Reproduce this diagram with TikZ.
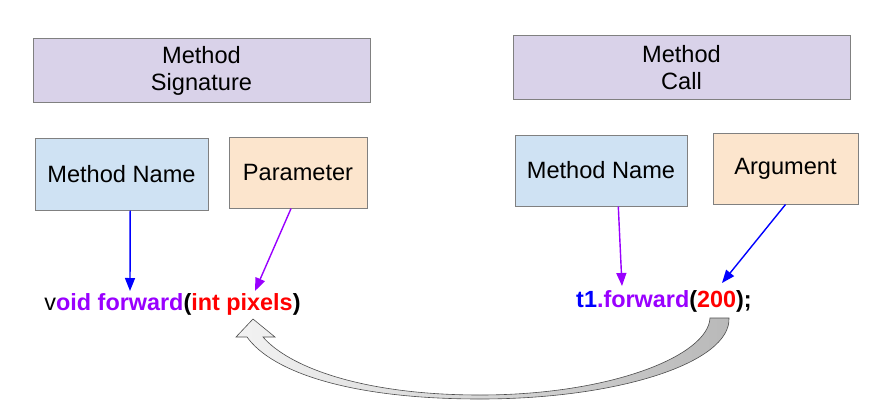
\documentclass[tikz,border=0pt]{standalone}
\usepackage{fontspec}
\setmainfont{Liberation Sans}
\usepackage{xcolor}
\usetikzlibrary{arrows.meta,calc}
\definecolor{sigfill}{HTML}{D9D2E9}
\definecolor{namefill}{HTML}{CFE2F3}
\definecolor{parfill}{HTML}{FCE5CD}
\definecolor{boxline}{HTML}{808080}
\definecolor{kwpurple}{HTML}{9900FF}
\definecolor{kwred}{HTML}{FF0000}
\definecolor{kwblue}{HTML}{0000FF}

\begin{document}
\begin{tikzpicture}[x=1pt, y=-1pt, main node/.style={rectangle, draw=boxline, line width=1pt, inner sep=0pt, font=\fontsize{23.6}{27}\selectfont, align=center}, code node/.style={inner sep=0pt, anchor=base, font=\fontsize{23.4}{27}\selectfont\bfseries}, blue arrow/.style={draw=kwblue, line width=1.4pt, -{Triangle[length=13pt,width=10pt]}}, purple arrow/.style={draw=kwpurple, line width=1.4pt, -{Triangle[length=13pt,width=10pt]}}]
\useasboundingbox (0,0) rectangle (886,415);
\node[main node, fill=sigfill, minimum width=337pt, minimum height=64pt] (sig) at (201.5,70.5) {Method\\Signature};
\node[main node, fill=sigfill, minimum width=337pt, minimum height=64pt] (call) at (681.5,67.5) {Method\\Call};
\node[main node, fill=namefill, minimum width=173pt, minimum height=72pt] (nameL) at (121.5,174) {Method Name};
\node[main node, fill=parfill, minimum width=138pt, minimum height=71pt] (param) at (298,172.5) {Parameter};
\node[main node, fill=namefill, minimum width=172pt, minimum height=71pt] (nameR) at (601,170.5) {Method Name};
\node[main node, fill=parfill, minimum width=145pt, minimum height=71pt] (arg) at (785.5,168.5) {Argument};
\node[code node] (sigcode) at (172.5,310) {{\mdseries v}\textcolor{kwpurple}{oid forward}(\textcolor{kwred}{int pixels})};
\node[code node] (callcode) at (664,307) {\textcolor{kwblue}{t1}\textcolor{kwpurple}{.forward}(\textcolor{kwred}{200});};
\coordinate (vTip) at (130,291);
\coordinate (pTip) at (255,291);
\coordinate (fTip) at (622,286);
\coordinate (aTip) at (722,283);
\path
($(nameL.south west)!.55!(nameL.south east)$) edge[blue arrow] (vTip)
($(param.south west)!.45!(param.south east)$) edge[purple arrow] (pTip)
($(nameR.south west)!.6!(nameR.south east)$) edge[purple arrow] (fTip)
(arg.south) edge[blue arrow] (aTip);
\draw[left color=gray!10, right color=gray!55, draw=gray!60!black, line width=.6pt]
(729,318) .. controls (731,362) and (620,399) .. (480,399)
.. controls (350,399) and (272,372) .. (247,337) -- (236,337) -- (253,319) -- (275,337) -- (263,337)
.. controls (288,366) and (360,395) .. (480,395)
.. controls (610,395) and (708,356) .. (710,318) -- cycle;
\end{tikzpicture}
\end{document}
